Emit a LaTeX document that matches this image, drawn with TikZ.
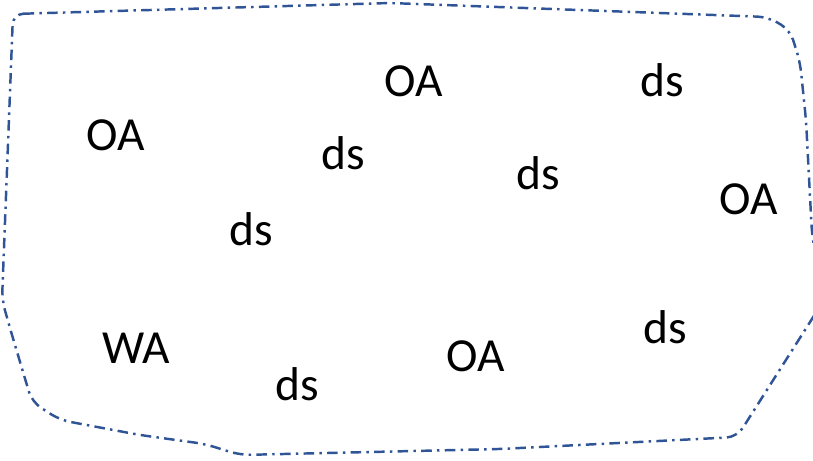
\documentclass[tikz,border=0pt]{standalone}
\usepackage{fontspec}
\setmainfont{Carlito}
\usetikzlibrary{positioning}
\definecolor{rim}{HTML}{2F5597}
\tikzset{lbl/.style={font=\fontsize{27}{32}\selectfont,inner sep=0pt,anchor=center},
 rimline/.style={draw=rim,line width=1.4pt,dash pattern=on 6pt off 3pt on 1.4pt off 3pt}}

\begin{document}
\begin{tikzpicture}[x=0.02cm,y=-0.02cm]
\useasboundingbox (0,0) rectangle (813,460);
\clip (0,0) rectangle (813,460);
% region outline
\draw[rimline,rounded corners=6pt] (13,14) -- (390,3) -- (768,17) -- (790,30) -- (800,62)
 -- (806,120) -- (812,235) -- (824,300) -- (737,437) -- (500,449) -- (240,455)
 -- (205,444) -- (140,435) -- (60,420) -- (32,402) -- (12,335) -- (2,300) -- cycle;

\node[lbl] (oa1) at (414,81) {OA};
\node[lbl] (ds1) at (662,80) {ds};
\node[lbl] (oa2) at (116,135) {OA};
\node[lbl] (ds2) at (343,153) {ds};
\node[lbl] (ds3) at (538,173) {ds};
\node[lbl] (oa3) at (749,199) {OA};
\node[lbl] (ds4) at (251,229) {ds};
\node[lbl] (ds5) at (665,327) {ds};
\node[lbl] (wa) at (136,348) {WA};
\node[lbl] (oa4) at (476,356) {OA};
\node[lbl] (ds6) at (297,384) {ds};
\end{tikzpicture}
\end{document}
